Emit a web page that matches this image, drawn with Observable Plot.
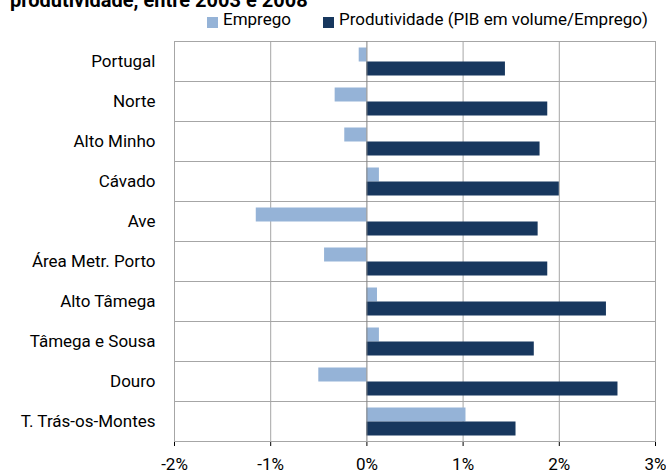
<!DOCTYPE html>
<html>
<head>
<meta charset="utf-8">
<script src="https://cdn.jsdelivr.net/npm/d3@7"></script>
<script src="https://cdn.jsdelivr.net/npm/@observablehq/plot@0.6"></script>
<style>
  html, body { margin: 0; padding: 0; background: #fff; }
  body { width: 666px; height: 474px; overflow: hidden; font-family: Roboto, "Noto Sans", sans-serif; }
  #title { position: relative; height: 12px; overflow: hidden; }
  #title span { position: absolute; left: 10px; top: -10px; font-weight: bold; font-size: 20px; line-height: 20px; color: #000; white-space: nowrap; }
  #legend { position: relative; height: 18px; font-size: 17px; color: #000; }
  #legend .sw { position: absolute; top: 5px; width: 11px; height: 11px; }
  #legend .lb { position: absolute; top: 1px; line-height: 12px; white-space: nowrap; }
  #chart { display: block; }
</style>
</head>
<body>
<div id="title"><span>produtividade, entre 2003 e 2008</span></div>
<div id="legend"></div>
<div id="chart"></div>
<script>
const regions = ["Portugal", "Norte", "Alto Minho", "Cávado", "Ave", "Área Metr. Porto", "Alto Tâmega", "Tâmega e Sousa", "Douro", "T. Trás-os-Montes"];
const emprego = [-0.08, -0.33, -0.23, 0.13, -1.15, -0.44, 0.11, 0.13, -0.50, 1.03];
const produtividade = [1.44, 1.88, 1.80, 2.00, 1.78, 1.88, 2.49, 1.74, 2.61, 1.55];
const series = ["Emprego", "Produtividade (PIB em volume/Emprego)"];
const colors = ["#95b3d7", "#17375e"];
const xTicks = [-2, -1, 0, 1, 2, 3];

const data = regions.flatMap((r, i) => [
  {region: r, serie: series[0], value: emprego[i]},
  {region: r, serie: series[1], value: produtividade[i]}
]);

// legend
const legend = document.getElementById("legend");
const legendPos = [[207, 223], [323, 339]];
series.forEach((s, i) => {
  const sw = document.createElement("div");
  sw.className = "sw"; sw.style.left = legendPos[i][0] + "px"; sw.style.background = colors[i];
  const lb = document.createElement("div");
  lb.className = "lb"; lb.style.left = legendPos[i][1] + "px"; lb.textContent = s;
  legend.appendChild(sw); legend.appendChild(lb);
});

const chart = Plot.plot({
  width: 666,
  height: 444,
  marginLeft: 174,
  marginRight: 11,
  marginTop: 9.5,
  marginBottom: 31,
  style: {fontFamily: "Roboto, 'Noto Sans', sans-serif", fontSize: "17px", color: "#000", background: "#fff", overflow: "visible"},
  x: {domain: [-2, 3], ticks: xTicks, tickFormat: d => `${d}%`, tickSize: 5, tickPadding: 11, label: null},
  fy: {domain: regions, padding: 0, label: null, tickSize: 0, tickPadding: 19, axis: "left"},
  y: {domain: series, axis: null, paddingInner: 0, paddingOuter: 0.4},
  color: {domain: series, range: colors},
  marks: [
    Plot.frame({stroke: "#a6a6a6"}),
    Plot.ruleX([-1, 1, 2], {stroke: "#a6a6a6"}),
    Plot.barX(data, {fy: "region", y: "serie", x: "value", fill: "serie"}),
    Plot.ruleX([0], {stroke: "#808080"})
  ]
});
document.getElementById("chart").appendChild(chart);
</script>
</body>
</html>
